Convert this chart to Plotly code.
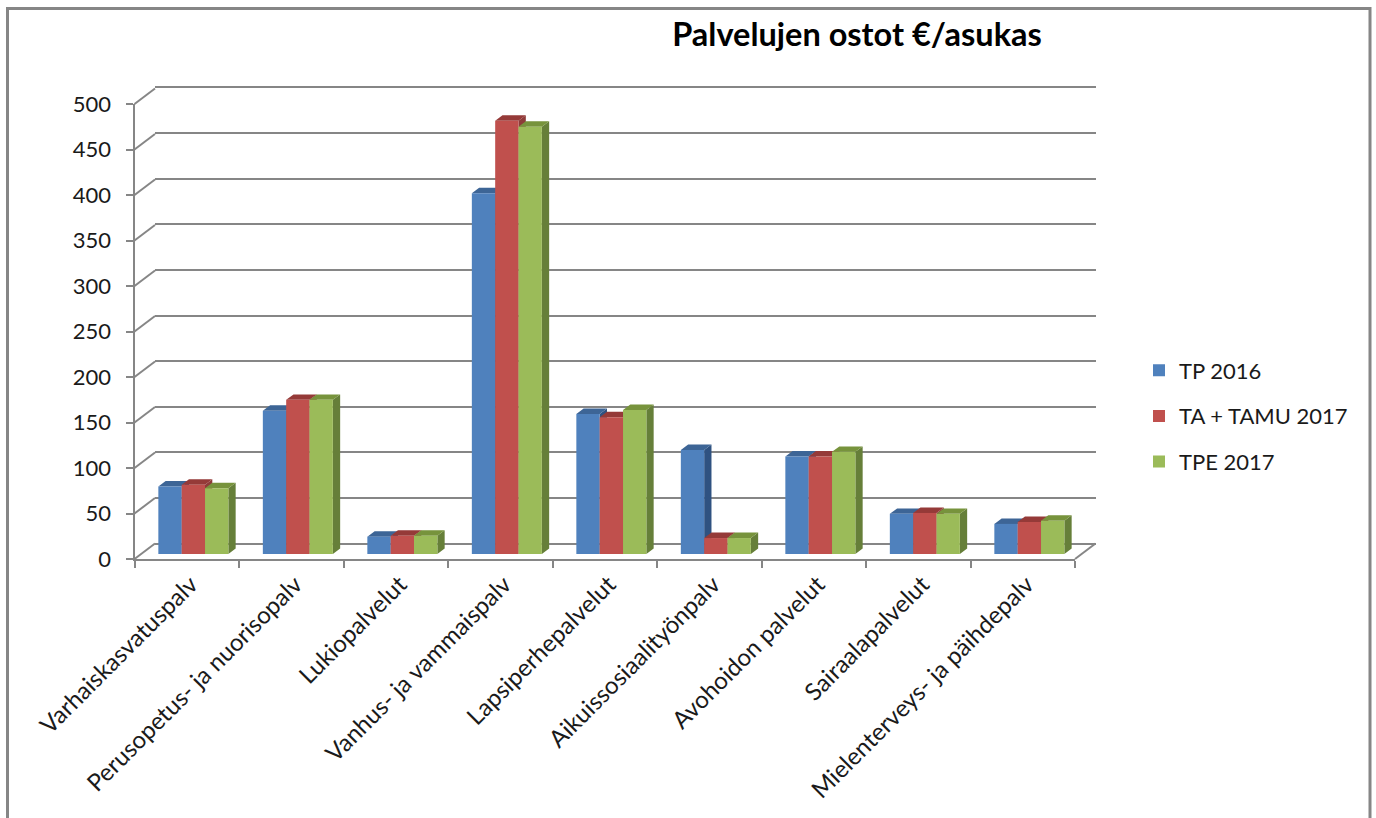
import plotly.graph_objects as go

categories = ["Varhaiskasvatuspalv", "Perusopetus- ja nuorisopalv", "Lukiopalvelut",
              "Vanhus- ja vammaispalv", "Lapsiperhepalvelut", "Aikuissosiaalityönpalv",
              "Avohoidon palvelut", "Sairaalapalvelut", "Mielenterveys- ja päihdepalv"]
tp_2016 = [74, 157, 19, 395.5, 153.5, 114, 107, 44, 33]
ta_tamu_2017 = [76, 169, 20, 475, 150, 17.5, 107, 45, 35]
tpe_2017 = [72, 169, 20, 468.5, 158, 17.5, 112, 44, 36.5]
series_names = ["TP 2016", "TA + TAMU 2017", "TPE 2017"]
y_ticks = list(range(0, 501, 50))
title_text = "Palvelujen ostot €/asukas"

W, H = 1376, 818
FONT = "Lato"
AXIS = "#868686"
TEXT = "#1a1a1a"
FRONT = ["#4F81BD", "#C0504D", "#9BBB59"]
TOP = ["#3D6596", "#953A38", "#77933C"]
SIDE = ["#2F5281", "#8E3B39", "#667F39"]
series = [tp_2016, ta_tamu_2017, tpe_2017]


def xd(a, b):
    return [a / W, b / W]


def yd(top, bottom):
    return [1 - bottom / H, 1 - top / H]


BAR_GAP = 0.33
n = len(series)
bw = (1 - BAR_GAP) / n
DX = 7.3 / 104.5
DY = 6.0
PX_X = (1075 - 134.5) / 9   # pixels per category on the front axis
PX_Y = (559 - 104) / 500    # pixels per unit on the front axis

fig = go.Figure()

# front axes, holds the tick labels
fig.add_trace(go.Scatter(x=categories, y=[0] * len(categories), mode="none",
                         showlegend=False, hoverinfo="skip", xaxis="x", yaxis="y"))

# perspective connectors between the front axis and the back wall
BACK_DX = 20.5 / PX_X
BACK_DY = 15.5 / PX_Y
dx_, dy_ = [], []
for v in y_ticks:
    dx_ += [-0.5, -0.5 + BACK_DX, None]
    dy_ += [v, v + BACK_DY, None]
dx_ += [8.5, 8.5 + BACK_DX]
dy_ += [0, BACK_DY]
fig.add_trace(go.Scatter(x=dx_, y=dy_, mode="lines", line=dict(color=AXIS, width=2),
                         showlegend=False, hoverinfo="skip", xaxis="x2", yaxis="y2"))

# back wall: an empty trace so that the subplot carrying the gridlines exists
fig.add_trace(go.Scatter(x=[0], y=[0], mode="none", showlegend=False, hoverinfo="skip",
                         xaxis="x3", yaxis="y3"))

# top and side faces of each bar
for s, vals in enumerate(series):
    tx, ty, sx, sy = [], [], [], []
    for i, v in enumerate(vals):
        x0 = i - (1 - BAR_GAP) / 2 + s * bw
        x1 = x0 + bw
        tx += [x0, x1, x1 + DX, x0 + DX, x0, None]
        ty += [v, v, v + DY, v + DY, v, None]
        sx += [x1, x1 + DX, x1 + DX, x1, x1, None]
        sy += [0, DY, v + DY, v, 0, None]
    for px_, py_, col in ((sx, sy, SIDE[s]), (tx, ty, TOP[s])):
        fig.add_trace(go.Scatter(x=px_, y=py_, mode="lines", fill="toself", fillcolor=col,
                                 line=dict(width=0, color=col), cliponaxis=False,
                                 showlegend=False, hoverinfo="skip", xaxis="x4", yaxis="y4"))

# front faces
for s, vals in enumerate(series):
    fig.add_trace(go.Bar(x=categories, y=vals, name=series_names[s], marker_color=FRONT[s],
                         marker_line_width=0, legendgroup=series_names[s],
                         xaxis="x5", yaxis="y5"))

hidden = dict(visible=False, fixedrange=True)
fig.update_layout(
    width=W, height=H, margin=dict(l=0, r=0, t=0, b=0, autoexpand=False),
    paper_bgcolor="white", plot_bgcolor="rgba(0,0,0,0)",
    font=dict(family=FONT, color=TEXT),
    barmode="group", bargap=BAR_GAP, bargroupgap=0,
    title=dict(text=f"<b>{title_text}</b>", x=857 / W, xanchor="center", y=1 - 35 / H,
               yanchor="middle", font=dict(family=FONT, size=32.5, color="#000000")),
    legend=dict(x=1139 / W, xanchor="left", y=1 - 416 / H, yanchor="middle",
                font=dict(family=FONT, size=22, color=TEXT), traceorder="grouped",
                tracegroupgap=14, bgcolor="rgba(0,0,0,0)"),
    xaxis=dict(domain=xd(134.5, 1075), type="category", categoryorder="array",
               categoryarray=categories, range=[-0.5, 8.5], anchor="y", tickson="boundaries",
               showline=True, linecolor=AXIS, linewidth=2, ticks="outside", ticklen=7,
               tickwidth=2, tickcolor=AXIS, tickangle=-45, showgrid=False,
               tickfont=dict(family=FONT, size=24, color=TEXT), fixedrange=True,
               ticklabelshift=4),
    yaxis=dict(domain=yd(104, 559), range=[0, 500], anchor="x", tickvals=y_ticks,
               showline=True, linecolor=AXIS, linewidth=2, ticks="outside", ticklen=7,
               tickwidth=2, tickcolor=AXIS, showgrid=False, zeroline=False,
               tickfont=dict(family=FONT, size=22, color=TEXT), fixedrange=True,
               ticklabelstandoff=10),
    # wide overlay in the same units as the front axes, for the connectors
    xaxis2=dict(domain=xd(100, 1120), range=[-0.5 + (100 - 134.5) / PX_X, 8.5 + (1120 - 1075) / PX_X],
                anchor="y2", **hidden),
    yaxis2=dict(domain=yd(60, 600), range=[(559 - 600) / PX_Y, 500 + (104 - 60) / PX_Y],
                anchor="x2", **hidden),
    xaxis3=dict(domain=xd(155, 1095.5), range=[-0.5, 8.5], anchor="y3", **hidden),
    yaxis3=dict(domain=yd(82.7, 548.3), range=[-5, 505], anchor="x3", tickvals=y_ticks,
                showgrid=True, gridcolor=AXIS, gridwidth=2, zeroline=False, showline=False,
                showticklabels=False, ticks="", fixedrange=True),
    xaxis4=dict(domain=xd(141.1, 1081.6), range=[-0.5, 8.5], anchor="y4", **hidden),
    yaxis4=dict(domain=yd(98, 554), range=[0, 500], anchor="x4", **hidden),
    xaxis5=dict(domain=xd(141.1, 1081.6), type="category", categoryorder="array",
                categoryarray=categories, range=[-0.5, 8.5], anchor="y5", **hidden),
    yaxis5=dict(domain=yd(98, 554), range=[0, 500], anchor="x5", **hidden),
    shapes=[dict(type="rect", xref="paper", yref="paper", x0=7.5 / W, x1=1370 / W,
                 y0=-0.05, y1=1 - 8.5 / H, line=dict(color=AXIS, width=3),
                 fillcolor="rgba(0,0,0,0)", layer="below")],
)

fig.write_html("out.html", config=dict(displayModeBar=False),
               post_script="document.body.style.margin='0';")
